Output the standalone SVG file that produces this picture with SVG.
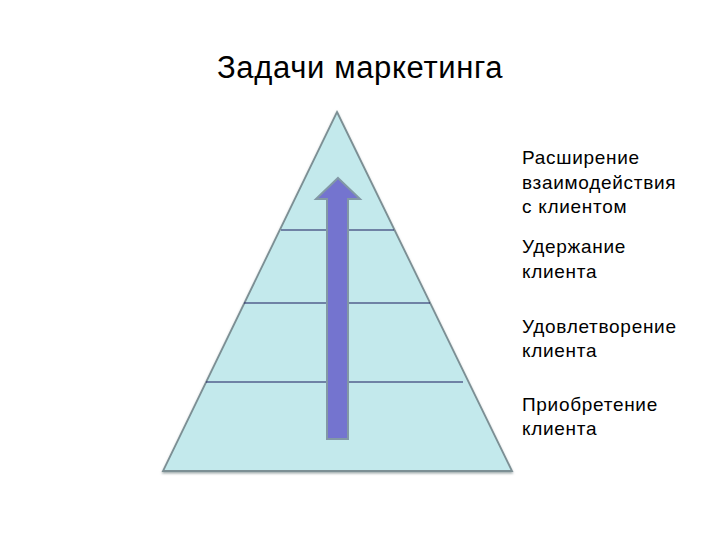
<svg xmlns="http://www.w3.org/2000/svg" width="720" height="540" viewBox="0 0 720 540">
  <style>
    .lbl { font-family: "Liberation Sans", Arial, sans-serif; font-size: 19px; letter-spacing: 0.7px; fill: #000; }
    .title { font-family: "Liberation Sans", Arial, sans-serif; font-size: 31px; letter-spacing: 0.65px; fill: #000; }
    .sep { stroke: #1c1c5e; stroke-width: 1.2; }
  </style>
  <defs>
    <filter id="bevel" x="-5%" y="-5%" width="110%" height="110%">
      <feDropShadow dx="0" dy="1.5" stdDeviation="1" flood-color="#5f6f72" flood-opacity="0.6"/>
    </filter>
  </defs>
  <rect width="720" height="540" fill="#ffffff"/>
  <g id="title">
    <text class="title" x="217" y="78">Задачи маркетинга</text>
  </g>
  <g id="pyramid">
    <polygon points="337,112 512,471 163,471" fill="#c3e9ec" stroke="#7c8f94" stroke-width="1.8" stroke-linejoin="miter" filter="url(#bevel)"/>
  </g>
  <g id="separators">
    <line class="sep" x1="281" y1="230" x2="394" y2="230"/>
    <line class="sep" x1="244" y1="303" x2="430" y2="303"/>
    <line class="sep" x1="206" y1="382" x2="463" y2="382"/>
  </g>
  <g id="arrow">
    <polygon points="338,178 360,199 348,199 348,439 327,439 327,199 316,199" fill="#7474cf" stroke="#8298a6" stroke-width="2" stroke-linejoin="miter"/>
  </g>
  <g id="label-1">
    <text class="lbl" x="522" y="164">Расширение</text>
    <text class="lbl" x="522" y="189">взаимодействия</text>
    <text class="lbl" x="522" y="213">с клиентом</text>
  </g>
  <g id="label-2">
    <text class="lbl" x="522" y="253">Удержание</text>
    <text class="lbl" x="522" y="278">клиента</text>
  </g>
  <g id="label-3">
    <text class="lbl" x="522" y="333">Удовлетворение</text>
    <text class="lbl" x="522" y="357">клиента</text>
  </g>
  <g id="label-4">
    <text class="lbl" x="522" y="411">Приобретение</text>
    <text class="lbl" x="522" y="435">клиента</text>
  </g>
</svg>
